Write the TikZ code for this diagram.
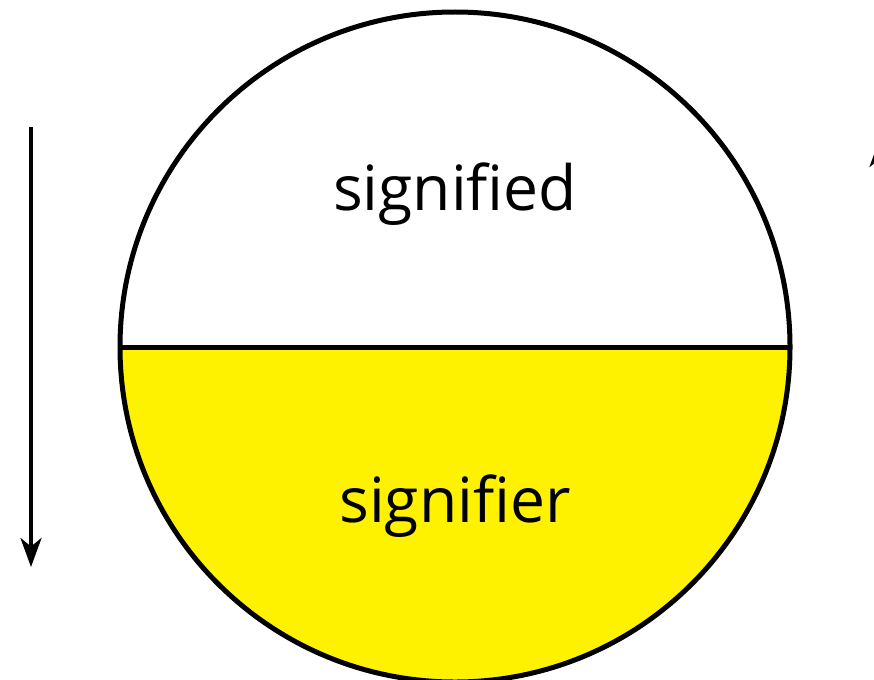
\documentclass[tikz,border=0pt]{standalone}
\usepackage{fontspec}
\setmainfont{Open Sans}
\usetikzlibrary{arrows.meta,positioning}
\definecolor{signFill}{HTML}{FFF200}
\tikzset{
  label/.style ={font=\fontsize{35.5}{42}\selectfont, inner sep=0pt},
  rim/.style   ={line width=0.1cm},
  arr/.style   ={-{Stealth[length=0.58cm, width=0.42cm, inset=0.17cm]}, line width=0.08cm},
}
\begin{document}
\begin{tikzpicture}[x=0.02cm, y=-0.02cm]
  \clip (0,0) rectangle (874,679);
  \useasboundingbox (0,0) rectangle (874,679);
  % sign circle
  \coordinate (c) at (455,347);
  \fill[signFill] (120,347) arc[start angle=180, end angle=360, radius=335*0.02cm] -- cycle;
  \draw[rim] (c) circle[radius=335*0.02cm];
  \draw[rim] (120,347) -- (790,347);
  % texts
  \node[label] (sd) at (455,194) {signified};
  \node[label] (sr) at (455,506) {signifier};
  % arrows
  \coordinate (la) at (31,127);
  \coordinate (lb) at (31,567);
  \coordinate (ra) at (880,578);
  \coordinate (rb) at (880,138);
  \draw[arr] (la) -- (lb);
  \draw[arr] (ra) -- (rb);
\end{tikzpicture}
\end{document}
